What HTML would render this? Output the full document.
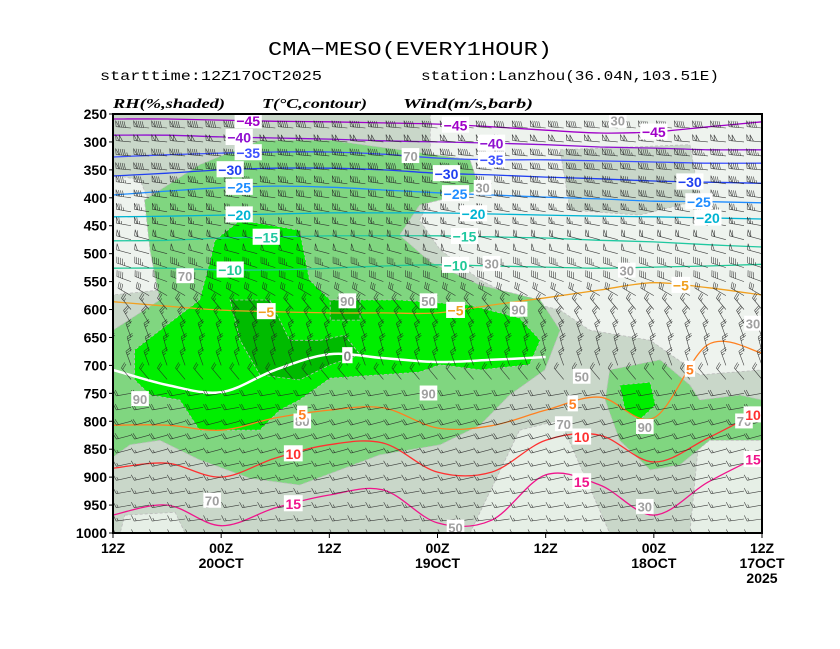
<!DOCTYPE html>
<html><head><meta charset="utf-8"><style>
html,body{margin:0;padding:0;background:#fff;}
svg{display:block;font-family:"Liberation Mono",monospace;}
</style></head><body>
<svg id="chart" width="840" height="649" viewBox="0 0 840 649" xmlns="http://www.w3.org/2000/svg">
<rect width="840" height="649" fill="#fff"/>
<text x="268" y="55" font-size="19" textLength="284" lengthAdjust="spacingAndGlyphs">CMA−MESO(EVERY1HOUR)</text>
<text x="100" y="80" font-size="14" textLength="222" lengthAdjust="spacingAndGlyphs">starttime:12Z17OCT2025</text>
<text x="421" y="80" font-size="14" textLength="298" lengthAdjust="spacingAndGlyphs">station:Lanzhou(36.04N,103.51E)</text>
<g font-style="italic" font-weight="bold" font-size="14" font-family="Liberation Serif, serif">
<text x="113" y="108" textLength="112" lengthAdjust="spacingAndGlyphs">RH(%,shaded)</text>
<text x="262" y="108" textLength="105" lengthAdjust="spacingAndGlyphs">T(°C,contour)</text>
<text x="403" y="108" textLength="130" lengthAdjust="spacingAndGlyphs">Wind(m/s,barb)</text>
</g>
<defs><clipPath id="plotclip"><rect x="113" y="114" width="649" height="419"/></clipPath></defs>
<g id="plot" clip-path="url(#plotclip)">
<rect x="113" y="114" width="649" height="419" fill="#c9d7c9"/>
<g id="rh"></g><g id="temps"></g><g id="barbs"></g><g id="labels"></g>
</g>
<rect x="113" y="114" width="649" height="419" fill="none" stroke="#000" stroke-width="2"/>
<g id="axes" font-weight="bold" font-size="14" font-family="Liberation Sans, sans-serif"></g>
</svg>
<script>
// ---- data ----
const levels = [250,300,350,400,450,500,550,600,650,700,750,800,850,900,950,1000];
const tempHours = [0,6,12,18,24,30,36,42,48,54,60,66,72];
const tempValues = [-45,-40,-35,-30,-25,-20,-15,-10,-5,0,5,10,15];
const tM45 = [259,259,261,263,264,266,268,273,279,284,282,273,264];
const tM40 = [288,288,291,293,295,298,300,302,305,309,311,314,314];
const tM35 = [327,323,320,318,318,322,329,332,332,334,336,338,338];
const tM30 = [361,356,350,347,347,350,356,359,363,366,370,372,374];
const tM25 = [395,388,382,379,381,386,391,395,399,402,406,407,409];
const tM20 = [434,433,431,429,427,427,427,429,431,433,434,436,438];
const tM15 = [477,476,472,470,468,468,468,470,472,476,479,484,488];
const tM10 = [526,526,529,529,526,522,520,522,524,526,524,522,519];
const tM5  = [586,594,601,604,606,606,606,592,579,565,552,561,574];
const t0   = [708,735,748,708,680,687,694,690,685];
const t5   = [807,807,816,794,780,776,812,808,780,757,794,663,678];
const t10  = [884,875,900,866,842,839,891,891,834,825,873,830,780];
const t15  = [968,950,987,955,932,923,982,977,896,914,968,909,860];
const tempLabelHours = [[15,38,60],[14,42],[15,42],[13,37,64],[14,38,65],[14,40,66],[17,39],[13,38],[17,38,63],[26],[21,51,64],[20,52,71],[20,52,71]];
// RH regions: [hour, hPa]
const rhLight1 = [[35.2,250],[72,250],[72,708],[65.1,717],[59.6,655],[52.9,637],[49.6,601],[45.1,583],[40.7,547],[36.3,493],[34,440],[36.3,368],[35.2,314]];
const rhGray1 = [[49.6,314],[64,305],[65.1,404],[58.4,431],[50.7,422]];
const rhLight2 = [[0,359],[3,368],[5.8,476],[5.2,565],[0,574]];
const rhLight3 = [[45.1,816],[49.6,798],[55.1,1000],[39.6,1000]];
const rhLight4 = [[65.1,816],[72,798],[72,1000],[64,1000]];
const rhLight5 = [[1.3,968],[6.9,963],[8,1000],[0.8,1000]];
const rhMid1 = [[0,637],[5.2,583],[4.1,494],[3.5,404],[9.6,341],[16.3,297],[24.1,297],[31.8,314],[39.6,332],[40.7,386],[34,413],[31.8,467],[35.2,515],[40.7,556],[47.4,583],[49.6,637],[47.9,708],[44,753],[40.7,807],[36.3,842],[29.6,860],[25.2,887],[20.7,914],[15.2,902],[9.6,869],[5.2,834],[1.9,842],[0,864]];
const rhMid2 = [[55.1,708],[60.7,690],[64,735],[65.1,762],[69.5,753],[72,762],[72,834],[66.2,834],[62.9,878],[59.6,887],[56.2,834],[54.6,762]];
const rhHigh1 = [[11.3,476],[14.1,440],[20.7,458],[21.8,547],[24.1,583],[31.8,583],[39.6,592],[45.1,615],[47.4,655],[46.2,699],[40.7,708],[36.3,699],[34,712],[29.6,717],[24.1,723],[20.7,762],[18.5,780],[16.3,816],[9.6,816],[7.4,762],[4.1,753],[2.4,726],[2.4,672],[5.2,637],[9.6,583],[10.8,511]];
const rhHigh2 = [[56.2,735],[59.6,730],[60.2,771],[58.4,798],[56.8,780]];
const rhTop1 = [[13,583],[17.4,583],[19.6,655],[23,655],[25.7,646],[27.4,681],[24.1,699],[20.7,726],[16.3,717],[14.1,655]];
const rhTop2 = [[24.1,583],[27.4,583],[27.4,619],[24.1,619]];
const rhLabels = [[3,760,"90"],[26,585,"90"],[45,600,"90"],[35,750,"90"],[59,810,"90"],[8,540,"70"],[11,942,"70"],[33,325,"70"],[21,800,"80"],[50,805,"70"],[70,800,"70"],[35,585,"50"],[52,720,"50"],[56,262,"30"],[41,382,"30"],[42,518,"30"],[57,530,"30"],[71,625,"30"],[59,953,"30"],[38,990,"50"]];
// winds per row
const windLevels = [275,300,325,350,375,400,425,450,475,500,525,550,575,600,625,650,675,700,725,750,775,800,825,850,875,900,925,950,975,1000];
const windDir = [275,275,275,275,278,278,280,280,285,285,288,290,300,320,330,340,345,340,320,260,260,255,255,255,258,258,260,260,262,262];
const windSpd = [36,40,38,36,34,32,30,26,24,20,18,16,12,10,10,10,10,10,8,8,8,8,8,6,6,6,6,6,6,6];
const xTickHours = [0,12,24,36,48,60,72];
const xTickTop = ["12Z","00Z","12Z","00Z","12Z","00Z","12Z"];
const xTickMid = ["","20OCT","","19OCT","","18OCT","17OCT"];
// ---- axes ----
const X = h => 113 + h*649/72;
const Y = p => 114 + (p-250)*419/750;
const NS = "http://www.w3.org/2000/svg";
function mk(tag, parent){const e=document.createElementNS(NS,tag);parent.appendChild(e);return e;}
const rhG=document.getElementById('rh'), tG=document.getElementById('temps'), bG=document.getElementById('barbs'), lG=document.getElementById('labels'), aG=document.getElementById('axes');
function poly(pts,fill,name){
  const e=mk('polygon',rhG);
  e.setAttribute('points',pts.map(q=>X(q[0]).toFixed(1)+','+Y(q[1]).toFixed(1)).join(' '));
  e.setAttribute('fill',fill);e.setAttribute('stroke','#bbb');e.setAttribute('stroke-dasharray','3,2');e.setAttribute('stroke-width','0.8');
  
  
}
poly(rhLight1,'#eef3ee','rh-region-30-50');
poly(rhGray1,'#c9d7c9','rh-region-50-70');
poly(rhLight2,'#eef3ee','rh-region-30-50');
poly(rhLight3,'#e6efe6','rh-region-30-50');
poly(rhLight4,'#e6efe6','rh-region-30-50');
poly(rhLight5,'#e6efe6','rh-region-30-50');
poly(rhMid1,'#80d680','rh-region-70-90');
poly(rhMid2,'#80d680','rh-region-70-90');
poly(rhHigh1,'#00ee00','rh-region-90-95');
poly(rhHigh2,'#00ee00','rh-region-90-95');
poly(rhTop1,'#00bb00','rh-region-95-plus');
poly(rhTop2,'#00bb00','rh-region-95-plus');
// temperature contours
const tSeries=[tM45,tM40,tM35,tM30,tM25,tM20,tM15,tM10,tM5,t0,t5,t10,t15];
const tColors=['#a000c8','#9010d0','#3c50ff','#2040f0','#1e8cff','#00b4d2','#20c8a0','#20c896','#f0a020','#ffffff','#ff8020','#ff3030','#f0148c'];
function smooth(pts){
  let d='M'+pts[0][0].toFixed(1)+','+pts[0][1].toFixed(1);
  for(let i=0;i<pts.length-1;i++){
    const p0=pts[Math.max(0,i-1)],p1=pts[i],p2=pts[i+1],p3=pts[Math.min(pts.length-1,i+2)];
    const c1=[p1[0]+(p2[0]-p0[0])/6,p1[1]+(p2[1]-p0[1])/6],c2=[p2[0]-(p3[0]-p1[0])/6,p2[1]-(p3[1]-p1[1])/6];
    d+=' C'+c1.map(v=>v.toFixed(1))+' '+c2.map(v=>v.toFixed(1))+' '+p2[0].toFixed(1)+','+p2[1].toFixed(1);
  }
  return d;
}
function interp(s,h){
  const i=Math.min(Math.floor(h/6),s.length-2), f=(h-i*6)/6;
  return s[i]+(s[i+1]-s[i])*f;
}
tSeries.forEach((s,k)=>{
  const pts=s.map((p,i)=>[X(tempHours[i]),Y(p)]);
  const e=mk('path',tG);
  e.setAttribute('d',smooth(pts));e.setAttribute('fill','none');e.setAttribute('stroke',tColors[k]);e.setAttribute('stroke-width',tempValues[k]===0?2.5:1.3);
  
  
});
// wind barbs
windLevels.forEach((lev,r)=>{
  const th=windDir[r]*Math.PI/180, dx=Math.sin(th), dy=-Math.cos(th), px=-dy, py=dx;
  const L=15; let d='';
  for(let h=0;h<=72;h+=2){
    const x0=X(h), y0=Y(lev), xe=x0+dx*L, ye=y0+dy*L;
    d+='M'+x0.toFixed(1)+','+y0.toFixed(1)+'L'+xe.toFixed(1)+','+ye.toFixed(1);
    let sp=Math.round(windSpd[r]/2)*2, pos=0;
    while(sp>=20){const bx=xe-dx*pos,by=ye-dy*pos;d+='M'+bx.toFixed(1)+','+by.toFixed(1)+'l'+(px*6+dx*1).toFixed(1)+','+(py*6+dy*1).toFixed(1)+'L'+(bx-dx*3).toFixed(1)+','+(by-dy*3).toFixed(1);sp-=20;pos+=3.5;}
    while(sp>=4){const bx=xe-dx*pos,by=ye-dy*pos;d+='M'+bx.toFixed(1)+','+by.toFixed(1)+'l'+(px*6+dx*2).toFixed(1)+','+(py*6+dy*2).toFixed(1);sp-=4;pos+=2;}
    if(sp>=2){const bx=xe-dx*(pos+ (pos===0?2:0)),by=ye-dy*(pos+(pos===0?2:0));d+='M'+bx.toFixed(1)+','+by.toFixed(1)+'l'+(px*3+dx).toFixed(1)+','+(py*3+dy).toFixed(1);}
  }
  const e=mk('path',bG);
  e.setAttribute('d',d);e.setAttribute('fill','none');e.setAttribute('stroke','#222');e.setAttribute('stroke-width','0.6');e.setAttribute('stroke-opacity','0.85');
  
  
});
// labels
function label(x,y,txt,color,fs,name){
  const w=txt.length*fs*0.6+2;
  const r=mk('rect',lG);r.setAttribute('x',x-w/2);r.setAttribute('y',y-fs*0.6);r.setAttribute('width',w);r.setAttribute('height',fs*1.15);r.setAttribute('fill','#fff');
  
  
  const t=mk('text',lG);t.setAttribute('x',x);t.setAttribute('y',y+fs*0.38);t.setAttribute('text-anchor','middle');t.setAttribute('font-size',fs);t.setAttribute('font-weight','bold');t.setAttribute('fill',color);t.setAttribute('font-family','Liberation Sans, sans-serif');
  t.textContent=txt;
  
  
}
rhLabels.forEach(l=>label(X(l[0]),Y(l[1]),l[2],'#a0a0a0',13,'rh-label'));
tSeries.forEach((s,k)=>{
  tempLabelHours[k].forEach(h=>{
    if(h/6>s.length-1) return;
    const col=tempValues[k]===0?'#888':tColors[k];
    label(X(h),Y(interp(s,h)),String(tempValues[k]).replace('-','−'),col,14,'isotherm-label');
  });
});
// axes
levels.forEach(p=>{
  const t=mk('text',aG);t.setAttribute('x',107);t.setAttribute('y',Y(p)+5);t.setAttribute('text-anchor','end');t.textContent=p;
  
  
  const l=mk('line',aG);l.setAttribute('x1',109);l.setAttribute('x2',113);l.setAttribute('y1',Y(p));l.setAttribute('y2',Y(p));l.setAttribute('stroke','#000');
  
  
});
xTickHours.forEach((h,i)=>{
  const t=mk('text',aG);t.setAttribute('x',X(h));t.setAttribute('y',553);t.setAttribute('text-anchor','middle');t.textContent=xTickTop[i];
  
  
  if(xTickMid[i]){const t2=mk('text',aG);t2.setAttribute('x',X(h));t2.setAttribute('y',568);t2.setAttribute('text-anchor','middle');t2.textContent=xTickMid[i];
    
    }
  const l=mk('line',aG);l.setAttribute('x1',X(h));l.setAttribute('x2',X(h));l.setAttribute('y1',533);l.setAttribute('y2',538);l.setAttribute('stroke','#000');
  
  
});
const yr=mk('text',aG);yr.setAttribute('x',X(72));yr.setAttribute('y',583);yr.setAttribute('text-anchor','middle');yr.textContent='2025';


</script>
</body></html>
